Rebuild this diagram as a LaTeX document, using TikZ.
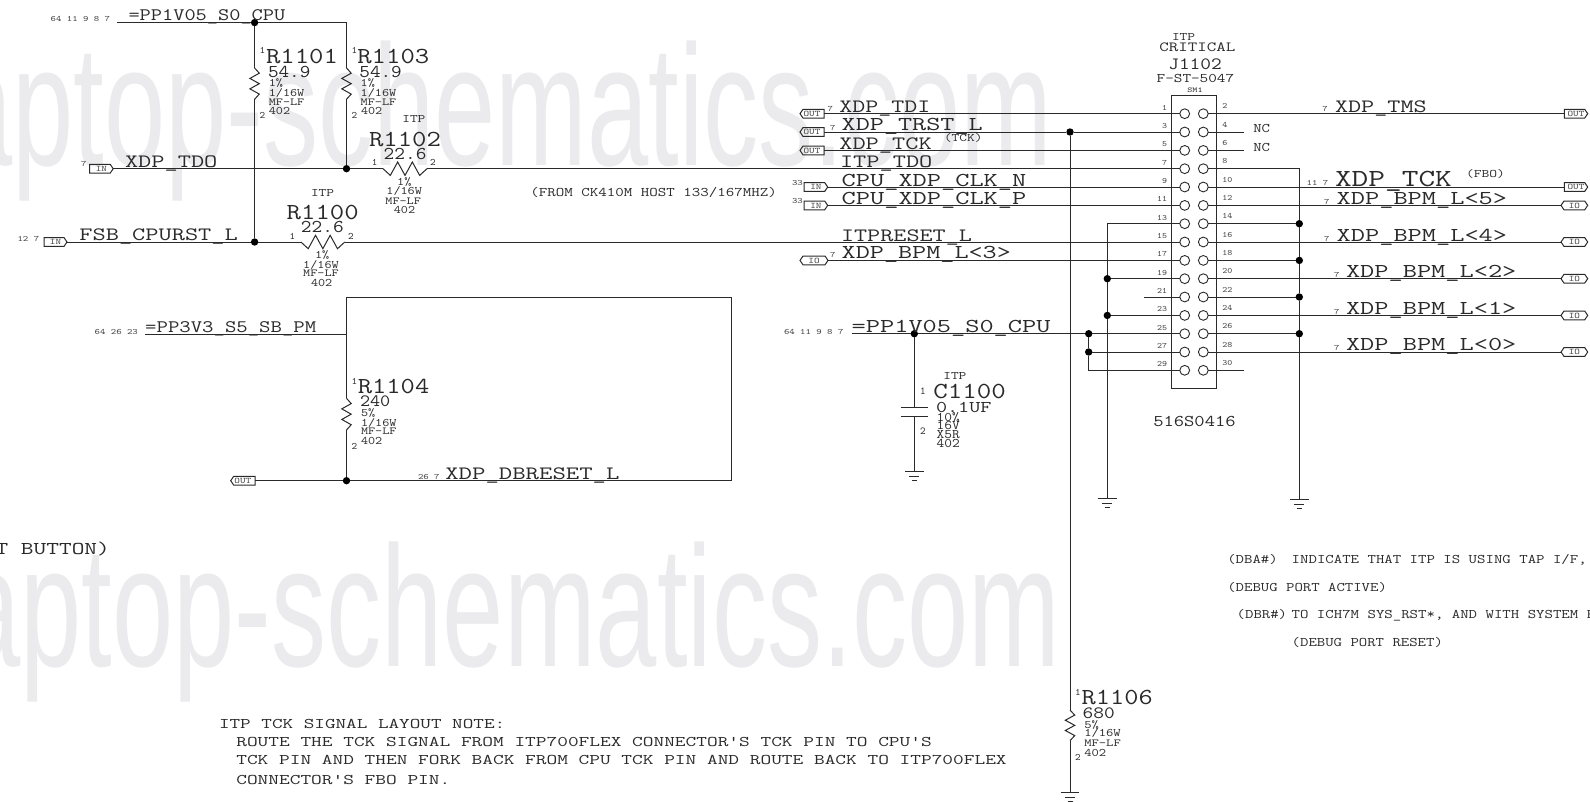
\documentclass[tikz,border=0pt]{standalone}
\usepackage{fontspec}
\newfontfamily\wmfont{Liberation Sans}
\definecolor{ink}{HTML}{2A2A2A}
\definecolor{soft}{HTML}{4A4A4A}
\definecolor{wm}{HTML}{EBEBED}
\newcounter{lbl}
\newsavebox\mybox
\newcommand\Tx[3]{\pgfmathsetmacro\myfs{#2/0.61}\fontsize{\myfs}{\myfs}\selectfont\ttfamily\sbox\mybox{M}\pgfmathsetmacro\myxs{#1/\the\wd\mybox}\scalebox{\myxs}[1]{#3}}
% [anchor]{x}{y}{charwidth}{capheight}{text}
\newcommand\Lb[6][base west]{\stepcounter{lbl}\node[lab,anchor=#1] (t\arabic{lbl}) at (#2,#3) {\Tx{#4}{#5}{#6}};}
\newcommand\Ls[4][base west]{\stepcounter{lbl}\node[lab,text=soft,anchor=#1] (t\arabic{lbl}) at (#2,#3) {\Tx{5.4}{5}{#4}};}
% resistor: name x y1 y2
\newcommand\ZigV[4]{\coordinate (#1-a) at (#2,#3);\coordinate (#1-b) at (#2,#4);
 \pgfmathsetmacro\mystep{(#4-#3)/6}
 \draw[wire] (#1-a) -- ++(4.7,\mystep) -- ++(-9.4,\mystep) -- ++(9.4,\mystep) -- ++(-9.4,\mystep) -- ++(9.4,\mystep) -- (#1-b);}
\newcommand\ZigH[4]{\coordinate (#1-a) at (#3,#2);\coordinate (#1-b) at (#4,#2);
 \pgfmathsetmacro\mystep{(#4-#3)/6}
 \draw[wire] (#1-a) -- ++(\mystep,6.7) -- ++(\mystep,-13.4) -- ++(\mystep,13.4) -- ++(\mystep,-13.4) -- ++(\mystep,13.4) -- (#1-b);}
% ground: name x y
\newcommand\Gnd[3]{\coordinate (#1) at (#2,#3);
 \draw[wire] ($(#1)+(-9.3,0)$) -- ($(#1)+(9.3,0)$);
 \draw[wire] ($(#1)+(-5,5)$) -- ($(#1)+(5,5)$);
 \draw[wire] ($(#1)+(-2.5,9)$) -- ($(#1)+(2.5,9)$);}
% tag: name xl xr y leftpoint rightpoint text
\newcommand\Tag[7]{\pgfmathsetmacro\tgcx{(#2+#3)/2}\pgfmathsetmacro\tgw{#3-#2}
 \node[tagbox,minimum width=\tgw pt] (#1) at (\tgcx,#4) {\Tx{5.6}{5.2}{#7}};
 \draw[wire] (#1.west) -- ($(#1.west)+(#5,-4.4)$) -- ($(#1.east)+(-#6,-4.4)$) -- (#1.east) -- ($(#1.east)+(-#6,4.4)$) -- ($(#1.west)+(#5,4.4)$) -- cycle;}
\usetikzlibrary{calc}
\tikzset{
 lab/.style={inner sep=0pt,outer sep=0pt,text=ink},
 wire/.style={draw=ink,line width=1pt},
 dotn/.style={circle,fill=black,inner sep=0pt,outer sep=0pt,minimum size=7.4pt},
 pinc/.style={circle,draw=ink,fill=white,line width=.9pt,inner sep=0pt,outer sep=0pt,minimum size=9.8pt},
 tagbox/.style={inner sep=0pt,outer sep=0pt,minimum height=8.8pt,text=soft},
}
\begin{document}
\begin{tikzpicture}[x=1pt,y=-1pt]
\useasboundingbox (0,0) rectangle (1590,801);
\fill[white] (0,0) rectangle (1590,801);
\clip (0,0) rectangle (1590,801);
% watermark
\node[inner sep=0pt,anchor=base east,text=wm] (wm1) at (1052.6,165) {\fontsize{172}{172}\selectfont\wmfont\scalebox{.64}[1]{laptop-schematics.com}};
\node[inner sep=0pt,anchor=base east,text=wm] (wm2) at (1061,666.7) {\fontsize{172}{172}\selectfont\wmfont\scalebox{.64}[1]{laptop-schematics.com}};
% connector J1102
\node[draw=ink,line width=1pt,inner sep=0pt,outer sep=0pt,minimum width=45.4pt,minimum height=293pt] (J) at (1194,242.2) {};
\foreach \k/\yy in {0/113.7,1/132,2/150.4,3/168.7,4/187,5/205.4,6/223.7,7/242,8/260.4,9/278.7,10/297,11/315.4,12/333.7,13/352,14/370.3}{
 \pgfmathtruncatemacro\pa{2*\k+1}\pgfmathtruncatemacro\pb{2*\k+2}
 \node[pinc] (L\k) at (1184.7,\yy) {};
 \node[pinc] (R\k) at (1203.3,\yy) {};
 \node[lab,text=soft,anchor=base east] (pl\k) at (1167,\yy-3.5) {\Tx{5}{5}{\pa}};
 \node[lab,text=soft,anchor=base west] (pr\k) at (1222.3,\yy-5) {\Tx{5}{5}{\pb}};
}
% top left power
\coordinate (pp1) at (117,22.6);\coordinate (pp2) at (346.5,22.6);
\node[dotn] (d1) at (254.6,22.6) {};
\node[dotn] (d2) at (254.6,242) {};
\node[dotn] (d3) at (346.5,168.7) {};
\ZigV{R1101}{254.6}{68}{99.3}
\ZigV{R1103}{346.5}{68}{99.3}
\ZigH{R1102}{168.7}{383}{427}
\ZigH{R1100}{242}{300.9}{344.8}
\draw[wire] (pp1) -- (d1) -- (pp2) -- (R1103-a);
\draw[wire] (d1) -- (R1101-a);\draw[wire] (R1101-b) -- (d2);
\draw[wire] (R1103-b) -- (d3);
\Tag{tTDO}{89.6}{113.2}{168.7}{0}{3}{IN}
\Tag{tFSB}{44}{67}{242}{0}{3}{IN}
\draw[wire] (tTDO.east) -- (d3) -- (R1102-a);
\draw[wire] (R1102-b) -- (L3.west);
\draw[wire] (tFSB.east) -- (d2) -- (R1100-a);
\draw[wire] (R1100-b) -- (L7.west);
% box with R1104
\coordinate (b1) at (346.5,297);\coordinate (b2) at (731.5,297);\coordinate (b3) at (731.5,480.7);
\node[dotn] (d5) at (346.5,480.7) {};
\ZigV{R1104}{346.5}{398.3}{430}
\draw[wire] (b1) -- (b2) -- (b3) -- (d5);
\draw[wire] (b1) -- (R1104-a);\draw[wire] (R1104-b) -- (d5);
\coordinate (pp3a) at (145,334);\coordinate (pp3b) at (346.5,334);
\draw[wire] (pp3a) -- (pp3b);
\Tag{tDB}{230.7}{255}{480.7}{3}{0}{OUT}
\draw[wire] (tDB.east) -- (d5);
% left tags to connector
\Tag{tTDI}{800}{824}{113.7}{3}{0}{OUT}
\Tag{tTRST}{800}{824}{132}{3}{0}{OUT}
\Tag{tTCK}{800}{824}{150.4}{3}{0}{OUT}
\Tag{tCN}{804}{827.7}{187}{0}{3}{IN}
\Tag{tCP}{804}{827.7}{205.4}{0}{3}{IN}
\Tag{tB3}{800}{828}{260.4}{3}{3}{IO}
\node[dotn] (d6) at (1070,132) {};
\draw[wire] (tTDI.east) -- (L0.west);
\draw[wire] (tTRST.east) -- (d6) -- (L1.west);
\draw[wire] (tTCK.east) -- (L2.west);
\draw[wire] (tCN.east) -- (L4.west);
\draw[wire] (tCP.east) -- (L5.west);
\draw[wire] (tB3.east) -- (L8.west);
\ZigV{R1106}{1070}{710}{740.7}
\Gnd{g4}{1070}{792.3}
\draw[wire] (d6) -- (R1106-a);\draw[wire] (R1106-b) -- (g4);
% PP1V05 right
\coordinate (pp4) at (851.7,333.7);
\node[dotn] (d7) at (914.3,333.7) {};
\node[dotn] (d8) at (1088.7,333.7) {};
\node[dotn] (d9) at (1088.7,352) {};
\coordinate (c14) at (1088.7,370.3);
\draw[wire] (pp4) -- (d7) -- (d8) -- (L12.west);
\draw[wire] (d9) -- (L13.west);
\draw[wire] (d8) -- (d9) -- (c14) -- (L14.west);
\coordinate (cp1) at (914.3,407);\coordinate (cp2) at (914.3,416.3);
\draw[wire] (d7) -- (cp1);
\draw[wire] ($(cp1)+(-13.5,0)$) -- ($(cp1)+(13.5,0)$);
\draw[wire] ($(cp2)+(-13.5,0)$) -- ($(cp2)+(13.5,0)$);
\Gnd{g1}{914.3}{471.7}
\draw[wire] (cp2) -- (g1);
% left ground rail
\coordinate (c6) at (1107.3,223.7);
\node[dotn] (d10) at (1107.3,278.7) {};
\node[dotn] (d11) at (1107.3,315.4) {};
\Gnd{g2}{1107.3}{498.3}
\draw[wire] (L6.west) -- (c6) -- (d10) -- (d11) -- (g2);
\draw[wire] (d10) -- (L9.west);
\draw[wire] (d11) -- (L11.west);
\coordinate (s21) at (1144,297);
\draw[wire] (s21) -- (L10.west);
% right ground rail
\coordinate (c8) at (1299.3,168.7);
\node[dotn] (d12) at (1299.3,223.7) {};
\node[dotn] (d13) at (1299.3,260.4) {};
\node[dotn] (d14) at (1299.3,297) {};
\node[dotn] (d15) at (1299.3,333.7) {};
\Gnd{g3}{1299.3}{499}
\draw[wire] (R3.east) -- (c8) -- (d12) -- (d13) -- (d14) -- (d15) -- (g3);
\draw[wire] (R6.east) -- (d12);
\draw[wire] (R8.east) -- (d13);
\draw[wire] (R10.east) -- (d14);
\draw[wire] (R12.east) -- (d15);
% right stubs
\coordinate (s4) at (1244.3,132);\coordinate (s6) at (1244.3,150.4);\coordinate (s30) at (1244.3,370.3);
\draw[wire] (R1.east) -- (s4);\draw[wire] (R2.east) -- (s6);\draw[wire] (R14.east) -- (s30);
% right tags
\Tag{tTMS}{1564.3}{1587.7}{113.7}{0}{3}{OUT}
\Tag{tTCK2}{1564.3}{1587.7}{187}{0}{3}{OUT}
\Tag{tB5}{1561}{1587.7}{205.4}{3}{3}{IO}
\Tag{tB4}{1561}{1587.7}{242}{3}{3}{IO}
\Tag{tB2}{1561}{1587.7}{278.7}{3}{3}{IO}
\Tag{tB1}{1561}{1587.7}{315.4}{3}{3}{IO}
\Tag{tB0}{1561}{1587.7}{352}{3}{3}{IO}
\draw[wire] (R0.east) -- (tTMS.west);
\draw[wire] (R4.east) -- (tTCK2.west);
\draw[wire] (R5.east) -- (tB5.west);
\draw[wire] (R7.east) -- (tB4.west);
\draw[wire] (R9.east) -- (tB2.west);
\draw[wire] (R11.east) -- (tB1.west);
\draw[wire] (R13.east) -- (tB0.west);
% ---- labels: top left
\Ls{50.7}{21.7}{64 11 9 8 7}
\Lb{128.5}{20.7}{11.2}{10.7}{=PP1V05\_S0\_CPU}
\Lb{259.6}{53}{5.6}{6}{1}
\Lb{266}{63.3}{14.4}{14}{R1101}
\Lb{268}{77.7}{10.6}{11}{54.9}
\Lb{268.8}{86}{7.1}{7}{1\%}
\Lb{268.8}{96}{7.1}{7}{1/16W}
\Lb{268.8}{105}{7.1}{6.5}{MF-LF}
\Lb{268.8}{114}{7.1}{7}{402}
\Lb{259.6}{118}{5.6}{6}{2}
\Lb{351.6}{53}{5.6}{6}{1}
\Lb{357.3}{63.3}{14.4}{14}{R1103}
\Lb{359.4}{77.7}{10.6}{11}{54.9}
\Lb{360.7}{86}{7.1}{7}{1\%}
\Lb{360.7}{96}{7.1}{7}{1/16W}
\Lb{360.7}{105}{7.1}{6.5}{MF-LF}
\Lb{361}{114}{7.1}{7}{402}
\Lb{351.6}{118}{5.6}{6}{2}
\Lb{402.3}{122.7}{7.7}{7}{ITP}
\Lb{369}{146}{14.4}{14}{R1102}
\Lb{383.7}{159.3}{10.7}{11}{22.6}
\Lb{371.9}{165.7}{5.6}{6}{1}
\Lb{430}{165.7}{5.6}{6}{2}
\Lb{397.2}{185.7}{7.1}{7}{1\%}
\Lb{386.4}{194}{7.1}{7}{1/16W}
\Lb{385.4}{204}{7.1}{6.5}{MF-LF}
\Lb{393.8}{213}{7.1}{7}{402}
\Ls{81}{166.7}{7}
\Lb{125}{167.3}{13.2}{11.5}{XDP\_TDO}
\Lb{311}{196}{7.7}{7}{ITP}
\Lb{286.7}{219.3}{14.4}{14}{R1100}
\Lb{300.9}{232}{10.7}{11}{22.6}
\Lb{289.7}{239}{5.6}{6}{1}
\Lb{348.2}{239}{5.6}{6}{2}
\Lb{315}{258}{7.1}{7}{1\%}
\Lb{303.2}{268}{7.1}{7}{1/16W}
\Lb{303.2}{276.7}{7.1}{6.5}{MF-LF}
\Lb{311}{286}{7.1}{7}{402}
\Ls{17.6}{241}{12 7}
\Lb{79.4}{240.7}{13.2}{11.5}{FSB\_CPURST\_L}
\Lb{530.3}{196.7}{8.5}{8}{(FROM CK410M HOST 133/167MHZ)}
% box
\Ls{94.7}{334}{64 26 23}
\Lb{145.2}{332.3}{11.4}{10.7}{=PP3V3\_S5\_SB\_PM}
\Lb{351.5}{384}{5.6}{6}{1}
\Lb{357.8}{393.3}{14.3}{14}{R1104}
\Lb{360}{406}{10.1}{10.5}{240}
\Lb{361}{416.7}{7.1}{7}{5\%}
\Lb{361}{426}{7.1}{7}{1/16W}
\Lb{361}{434}{7.1}{6.5}{MF-LF}
\Lb{361}{444}{7.1}{7}{402}
\Lb{351.5}{449}{5.6}{6}{2}
\Ls{418}{479}{26 7}
\Lb{445.3}{479}{13.4}{11.5}{XDP\_DBRESET\_L}
% connector left labels
\Ls{827.7}{111.7}{7}
\Lb{839.3}{112.3}{13}{11.5}{XDP\_TDI}
\Ls{830}{130.7}{7}
\Lb{841.7}{130.7}{14.1}{12}{XDP\_TRST\_L}
\Lb{944}{141}{7.7}{7}{(TCK)}
\Lb{839.3}{149.3}{13.2}{11.5}{XDP\_TCK}
\Lb{840}{167.3}{13.2}{11.5}{ITP\_TDO}
\Ls{792}{185.7}{33}
\Lb{841.7}{186}{14.2}{12}{CPU\_XDP\_CLK\_N}
\Ls{792}{203.7}{33}
\Lb{841.7}{204}{14.2}{12}{CPU\_XDP\_CLK\_P}
\Lb{841}{241}{13.1}{11.5}{ITPRESET\_L}
\Ls{830}{257.3}{7}
\Lb{841.7}{258}{14.1}{12}{XDP\_BPM\_L<3>}
% connector heading
\Lb{1172}{40.7}{7.7}{7}{ITP}
\Lb{1159.3}{51.7}{9.5}{8.5}{CRITICAL}
\Lb{1168.3}{69}{10.7}{10.5}{J1102}
\Lb{1156.7}{82.3}{8.6}{8}{F-ST-5047}
\Lb{1187.3}{92}{5.1}{4.5}{SM1}
\Lb{1253.3}{132.3}{8.4}{8}{NC}
\Lb{1253.3}{151}{8.4}{8}{NC}
\Lb{1153.3}{426.7}{10.3}{10}{516S0416}
% connector right labels
\Ls{1322.3}{111.7}{7}
\Lb{1335}{112.3}{13.1}{11.5}{XDP\_TMS}
\Ls{1306.7}{185.7}{11 7}
\Lb{1335}{186}{16.7}{15}{XDP\_TCK}
\Lb{1466}{177.7}{7.8}{7}{(FBO)}
\Ls{1324}{204}{7}
\Lb{1336.7}{204.3}{14.2}{12}{XDP\_BPM\_L<5>}
\Ls{1324}{241}{7}
\Lb{1336.7}{241}{14.2}{12}{XDP\_BPM\_L<4>}
\Ls{1334}{277.3}{7}
\Lb{1346}{277.3}{14.2}{12}{XDP\_BPM\_L<2>}
\Ls{1334}{314}{7}
\Lb{1346}{314}{14.2}{12}{XDP\_BPM\_L<1>}
\Ls{1334}{350.6}{7}
\Lb{1346}{350.6}{14.2}{12}{XDP\_BPM\_L<0>}
% C1100
\Ls{784}{334}{64 11 9 8 7}
\Lb{851.7}{332.3}{14.2}{12}{=PP1V05\_S0\_CPU}
\Lb{920}{394}{5.6}{6.5}{1}
\Lb{943.3}{379}{7.7}{7}{ITP}
\Lb{933.3}{398.3}{14.5}{14}{C1100}
\Lb{936}{412.3}{11.1}{10}{0.1UF}
\Lb{936.7}{421}{7.7}{8}{10\%}
\Lb{936.7}{429}{7.7}{8}{16V}
\Lb{936.7}{438.3}{7.7}{8}{X5R}
\Lb{936.7}{447}{7.7}{8}{402}
\Lb{920}{434.3}{5.6}{6.5}{2}
% R1106
\Lb{1075}{695}{5.6}{6}{1}
\Lb{1081.7}{704}{14.2}{14}{R1106}
\Lb{1082.7}{718.3}{10.7}{10.5}{680}
\Lb{1084.3}{728.3}{7.3}{7}{5\%}
\Lb{1084.3}{736.7}{7.3}{7}{1/16W}
\Lb{1084.3}{746}{7.3}{6.5}{MF-LF}
\Lb{1084.3}{756}{7.3}{7}{402}
\Lb{1075}{760}{5.6}{6}{2}
% notes
\Lb{-4.4}{554}{12.7}{11}{T BUTTON)}
\Lb{219}{728}{10.6}{9}{ITP TCK SIGNAL LAYOUT NOTE:}
\Lb{236.3}{746.3}{10.7}{9}{ROUTE THE TCK SIGNAL FROM ITP700FLEX CONNECTOR'S TCK PIN TO CPU'S}
\Lb{236.3}{764.6}{10.7}{9}{TCK PIN AND THEN FORK BACK FROM CPU TCK PIN AND ROUTE BACK TO ITP700FLEX}
\Lb{236.3}{784}{10.7}{9}{CONNECTOR'S FBO PIN.}
\Lb{1227.3}{563.3}{8.4}{8}{(DBA\#)}
\Lb{1291.7}{563.3}{8.43}{8}{INDICATE THAT ITP IS USING TAP I/F,}
\Lb{1227.3}{591}{8.4}{8}{(DEBUG PORT ACTIVE)}
\Lb{1236.7}{618.3}{8.4}{8}{(DBR\#)}
\Lb{1291.7}{618.3}{8.43}{8}{TO ICH7M SYS\_RST*, AND WITH SYSTEM R}
\Lb{1291.7}{646}{8.4}{8}{(DEBUG PORT RESET)}
\end{tikzpicture}
\end{document}
